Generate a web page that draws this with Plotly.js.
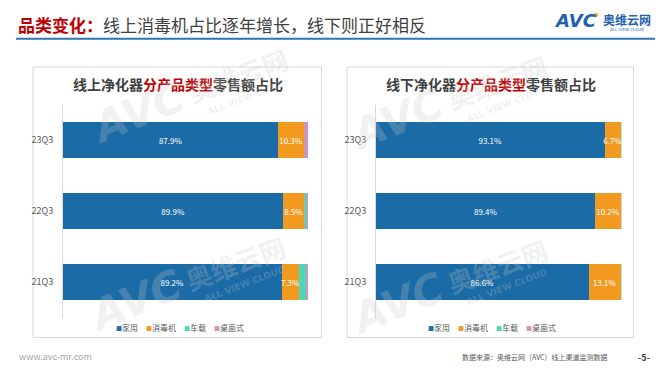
<!DOCTYPE html>
<html>
<head>
<meta charset="utf-8">
<script src="https://cdn.plot.ly/plotly-3.0.1.min.js"></script>
<style>
html,body{margin:0;padding:0;background:#fff;}
#chart{width:668px;height:371px;}
</style>
</head>
<body>
<div id="chart"></div>
<script>
// ---- data ----
const categories = ['21Q3', '22Q3', '23Q3'];
const seriesNames = ['家用', '消毒机', '车载', '桌面式'];
const seriesColors = ['#1B6BA6', '#F29A1F', '#4FD8B8', '#C896BF'];
const labeledSeries = [true, true, false, false];

const onlineHome = [89.2, 89.9, 87.9];
const onlineDisinfect = [7.3, 8.5, 10.3];
const onlineCar = [2.7, 0.6, 0.3];
const onlineDesk = [0.8, 1.0, 1.5];

const offlineHome = [86.6, 89.4, 93.1];
const offlineDisinfect = [13.1, 10.2, 6.7];
const offlineCar = [0.3, 0.1, 0.2];
const offlineDesk = [0.0, 0.3, 0.0];

const mainTitleRed = '品类变化：';
const mainTitleRest = '线上消毒机占比逐年增长，线下则正好相反';
const chartTitles = [
  ['线上净化器', '分产品类型', '零售额占比'],
  ['线下净化器', '分产品类型', '零售额占比']
];
const footerLeft = 'www.avc-mr.com';
const footerSource = '数据来源：奥维云网（AVC）线上渠道监测数据';
const pageNumber = '-5-';

// ---- helpers ----
const W = 668, H = 371;
const px = x => x / W;
const py = y => 1 - y / H;
const FONT = '"Noto Sans CJK SC", "Noto Sans", sans-serif';

const onlineSeries = [onlineHome, onlineDisinfect, onlineCar, onlineDesk];
const offlineSeries = [offlineHome, offlineDisinfect, offlineCar, offlineDesk];

const traces = [];
function addTraces(seriesList, xa, ya) {
  seriesList.forEach((vals, i) => {
    traces.push({
      type: 'bar',
      orientation: 'h',
      name: seriesNames[i],
      x: vals,
      y: categories,
      xaxis: xa,
      yaxis: ya,
      marker: {color: seriesColors[i], line: {width: 0}},
      texttemplate: labeledSeries[i] ? '%{x:.1f}%' : '',
      textposition: labeledSeries[i] ? 'inside' : 'none',
      insidetextanchor: 'middle',
      textangle: 0,
      textfont: {color: '#FFFFFF', size: 8, family: FONT},
      constraintext: 'none',
      showlegend: false,
      hoverinfo: 'skip'
    });
  });
}
addTraces(onlineSeries, 'x', 'y');
addTraces(offlineSeries, 'x2', 'y2');

const yDomain = [py(317.5), py(104.5)];
const axisY = {
  type: 'category',
  categoryorder: 'array',
  categoryarray: categories,
  domain: yDomain,
  showline: true,
  linecolor: '#D9D9D9',
  linewidth: 1,
  ticks: '',
  showgrid: false,
  zeroline: false,
  tickfont: {size: 9, color: '#595959', family: FONT},
  ticklabelstandoff: 7,
  fixedrange: true
};
const axisX = {
  range: [0, 100],
  visible: false,
  showgrid: false,
  zeroline: false,
  fixedrange: true
};

const shapes = [
  // header rule
  {type: 'line', xref: 'paper', yref: 'paper', x0: px(16), x1: px(655), y0: py(38.7), y1: py(38.7),
   line: {color: '#2E75B6', width: 2}},
  // chart boxes
  {type: 'rect', xref: 'paper', yref: 'paper', x0: px(33), x1: px(321.5), y0: py(337.5), y1: py(67),
   line: {color: '#D9D9D9', width: 1}, layer: 'below'},
  {type: 'rect', xref: 'paper', yref: 'paper', x0: px(347), x1: px(633.5), y0: py(337.5), y1: py(67),
   line: {color: '#D9D9D9', width: 1}, layer: 'below'},
  // logo dot
  {type: 'circle', xref: 'paper', yref: 'paper', x0: px(594), x1: px(598), y0: py(17), y1: py(13),
   fillcolor: '#F29A1F', line: {width: 0}}
];

function legendText() {
  return seriesNames.map((n, i) =>
    '<span style="color:' + seriesColors[i] + ';font-size:6px">■</span>' + n
  ).join('\u3000');
}

const wmColor = 'rgba(200,200,200,0.26)';
function watermark(cx, cy) {
  return [
    {xref: 'paper', yref: 'paper', x: px(cx - 100), y: py(cy + 38), xanchor: 'center', yanchor: 'middle',
     text: '<b><i>AVC</i></b>', showarrow: false,
     textangle: -22, font: {size: 42, color: wmColor, family: 'DejaVu Sans'}},
    {xref: 'paper', yref: 'paper', x: px(cx), y: py(cy), xanchor: 'center', yanchor: 'middle',
     text: '<b>奥维云网</b>', showarrow: false,
     textangle: -20, font: {size: 26, color: wmColor, family: FONT}},
    {xref: 'paper', yref: 'paper', x: px(cx + 10), y: py(cy + 22), xanchor: 'center', yanchor: 'middle',
     text: '<b>ALL VIEW CLOUD</b>', showarrow: false,
     textangle: -21, font: {size: 9, color: wmColor, family: 'DejaVu Sans'}}
  ];
}

const annotations = [
  // main title
  {xref: 'paper', yref: 'paper', x: px(16), y: py(25), xanchor: 'left', yanchor: 'middle', showarrow: false,
   text: '<b><span style="color:#C00000">' + mainTitleRed + '</span></b>' + mainTitleRest,
   font: {size: 17, color: '#404040', family: FONT}},
  // logo
  {xref: 'paper', yref: 'paper', x: px(575), y: py(20), xanchor: 'center', yanchor: 'middle', showarrow: false,
   text: '<b><i>AVC</i></b>', font: {size: 18, color: '#1E63B0', family: 'DejaVu Sans'}},
  {xref: 'paper', yref: 'paper', x: px(627), y: py(19), xanchor: 'center', yanchor: 'middle', showarrow: false,
   text: '<b>奥维云网</b>', font: {size: 12, color: '#1E63B0', family: FONT}},
  {xref: 'paper', yref: 'paper', x: px(627), y: py(29), xanchor: 'center', yanchor: 'middle', showarrow: false,
   text: 'ALL VIEW CLOUD', font: {size: 4, color: '#1E63B0', family: 'DejaVu Sans'}},
  // chart titles
  {xref: 'paper', yref: 'paper', x: px(178), y: py(84), xanchor: 'center', yanchor: 'middle', showarrow: false,
   text: '<b>' + chartTitles[0][0] + '<span style="color:#C00000">' + chartTitles[0][1] + '</span>' + chartTitles[0][2] + '</b>',
   font: {size: 14, color: '#404040', family: FONT}},
  {xref: 'paper', yref: 'paper', x: px(491), y: py(84), xanchor: 'center', yanchor: 'middle', showarrow: false,
   text: '<b>' + chartTitles[1][0] + '<span style="color:#C00000">' + chartTitles[1][1] + '</span>' + chartTitles[1][2] + '</b>',
   font: {size: 14, color: '#404040', family: FONT}},
  // legends
  {xref: 'paper', yref: 'paper', x: px(179.5), y: py(327), xanchor: 'center', yanchor: 'middle', showarrow: false,
   text: legendText(), font: {size: 8, color: '#595959', family: FONT}},
  {xref: 'paper', yref: 'paper', x: px(492), y: py(327), xanchor: 'center', yanchor: 'middle', showarrow: false,
   text: legendText(), font: {size: 8, color: '#595959', family: FONT}},
  // footer
  {xref: 'paper', yref: 'paper', x: px(17), y: py(356), xanchor: 'left', yanchor: 'middle', showarrow: false,
   text: footerLeft, font: {size: 9, color: '#A6A6A6', family: FONT}},
  {xref: 'paper', yref: 'paper', x: px(610), y: py(357), xanchor: 'right', yanchor: 'middle', showarrow: false,
   text: footerSource, font: {size: 7, color: '#595959', family: FONT}},
  {xref: 'paper', yref: 'paper', x: px(644), y: py(357), xanchor: 'center', yanchor: 'middle', showarrow: false,
   text: '<b>' + pageNumber + '</b>', font: {size: 9, color: '#404040', family: FONT}}
].concat(watermark(235, 262), watermark(238, 75), watermark(497, 265), watermark(497, 82));

const layout = {
  width: W,
  height: H,
  margin: {l: 0, r: 0, t: 0, b: 0},
  paper_bgcolor: '#FFFFFF',
  plot_bgcolor: 'rgba(0,0,0,0)',
  barmode: 'stack',
  bargap: 0.5,
  showlegend: false,
  uniformtext: {mode: 'show', minsize: 8},
  font: {family: FONT},
  xaxis: Object.assign({}, axisX, {domain: [px(63), px(308)], anchor: 'y'}),
  yaxis: Object.assign({}, axisY, {anchor: 'x'}),
  xaxis2: Object.assign({}, axisX, {domain: [px(376), px(621.5)], anchor: 'y2'}),
  yaxis2: Object.assign({}, axisY, {anchor: 'x2'}),
  shapes: shapes,
  annotations: annotations
};

Plotly.newPlot('chart', traces, layout, {displayModeBar: false, staticPlot: true});
</script>
</body>
</html>
